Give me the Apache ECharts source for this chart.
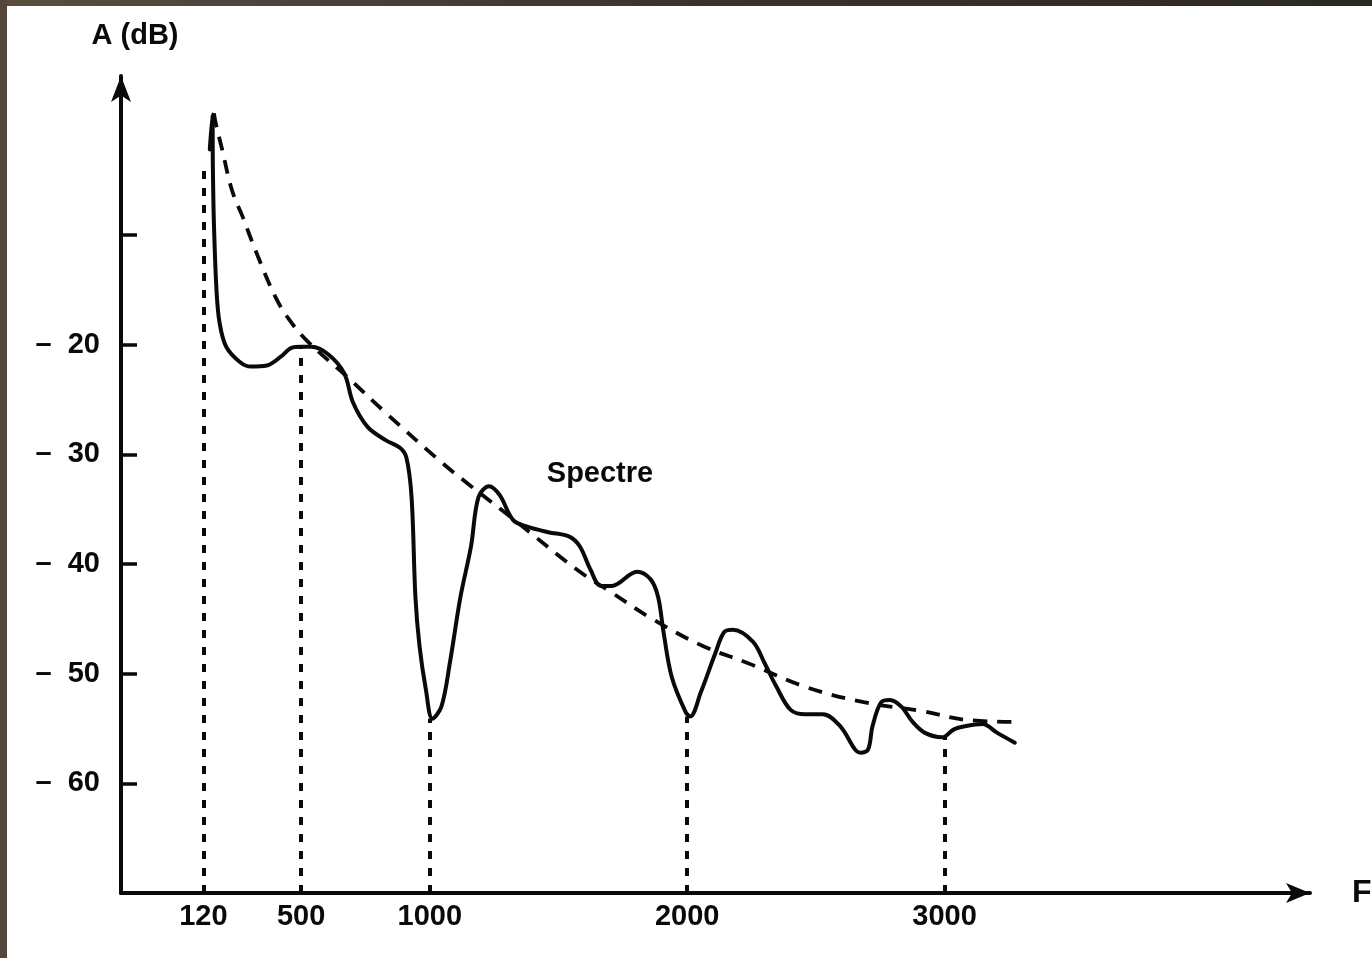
<!DOCTYPE html>
<html>
<head>
<meta charset="utf-8">
<title>Spectre</title>
<script src="https://cdn.jsdelivr.net/npm/echarts@6/dist/echarts.min.js"></script>
<style>
  html, body { margin: 0; padding: 0; background: #ffffff; }
  #chart { position: absolute; left: 0; top: 0; width: 1372px; height: 958px; background: #ffffff; }
  .edge-top { position: absolute; left: 0; top: 0; width: 1372px; height: 6px;
              background: linear-gradient(to right, #5a4d40, #3a332c 50%, #2c2824); z-index: 2; }
  .edge-left { position: absolute; left: 0; top: 0; width: 7px; height: 958px; background: #54483c; z-index: 2; }
</style>
</head>
<body>
<div id="chart"></div>
<div class="edge-top"></div>
<div class="edge-left"></div>
<script>
// Frequency ticks (Hz) and amplitude ticks (dB)
const freqTicks = [120, 500, 1000, 2000, 3000];
const dbLabelTicks = [-60, -50, -40, -30, -20];
const dbTickMarks = [-60, -50, -40, -30, -20, -10];

// Measured spectrum: frequency (Hz) and amplitude (dB)
const spectrumFreq = [145, 155, 157, 161, 171, 183, 209, 263, 304, 367, 421, 462, 500, 540, 606, 667,
  702, 758, 828, 884, 909, 929, 944, 960, 985, 1010, 1045, 1078, 1119, 1160, 1189, 1230, 1271, 1324,
  1378, 1460, 1542, 1583, 1624, 1665, 1706, 1805, 1858, 1887, 1908, 1940, 1994, 2012, 2053, 2110,
  2144, 2178, 2256, 2300, 2347, 2402, 2459, 2527, 2595, 2652, 2673, 2703, 2720, 2754, 2788, 2832,
  2876, 2924, 2991, 3035, 3079, 3147, 3205, 3273];
const spectrumDb = [-2.2, 1.0, -3.9, -8.9, -15.0, -18.0, -20.2, -21.6, -22.0, -21.9, -21.1, -20.3, -20.2, -20.2, -20.9, -22.6,
  -25.3, -27.5, -28.7, -29.4, -30.3, -33.9, -43.0, -47.5, -51.5, -54.1, -53.0, -49.0, -43.0, -38.4, -33.9, -32.9, -33.7, -36.0,
  -36.6, -37.1, -37.5, -38.4, -40.5, -42.0, -42.0, -40.7, -41.4, -43.0, -46.2, -50.3, -53.5, -53.9, -51.7, -48.1,
  -46.2, -46.0, -47.1, -49.0, -51.2, -53.3, -53.7, -53.7, -54.8, -56.9, -57.2, -56.9, -54.8, -52.6, -52.4, -53.0,
  -54.4, -55.4, -55.8, -55.1, -54.8, -54.6, -55.4, -56.3];

// Envelope of the spectrum (dashed curve)
const envelopeFreq = [161, 168, 193, 231, 272, 326, 399, 453, 525, 677, 828, 1049, 1160, 1324, 1571, 1706,
  1871, 2063, 2232, 2459, 2686, 2910, 3079, 3273];
const envelopeDb = [1.1, 0.2, -2.2, -5.9, -8.3, -11.6, -15.6, -17.7, -19.7, -22.9, -26.2, -30.8, -32.9, -35.9, -40.5, -42.6,
  -45.1, -47.5, -49.0, -51.2, -52.6, -53.4, -54.2, -54.4];

// Dotted drop lines from the frequency axis up to the curve
const dropFreq = [120, 500, 1000, 2000, 3000];
const dropTopDb = [-4, -20.2, -54.1, -53.9, -55.8];

const axisFloorDb = -70;

const FONT = 'Liberation Sans';
const INK = '#0a0a0a';

const zip = (xs, ys) => xs.map((x, i) => [x, ys[i]]);

const chart = echarts.init(document.getElementById('chart'), null, { renderer: 'canvas' });

chart.setOption({
  backgroundColor: '#ffffff',
  animation: false,
  grid: { left: 121, right: 62, top: 76, bottom: 65, containLabel: false, outerBoundsMode: 'none' },
  xAxis: {
    type: 'value',
    min: -200,
    max: 4420,
    name: 'F',
    nameLocation: 'end',
    nameGap: 42,
    nameTextStyle: { color: INK, fontFamily: FONT, fontWeight: 'bold', fontSize: 32 },
    axisLine: {
      show: true, onZero: false,
      symbol: ['none', 'arrow'], symbolSize: [15, 24],
      lineStyle: { color: INK, width: 4 }
    },
    axisTick: { show: false },
    splitLine: { show: false },
    axisLabel: {
      customValues: freqTicks,
      formatter: v => String(v),
      color: INK, fontFamily: FONT, fontWeight: 'bold', fontSize: 29, margin: 9
    }
  },
  yAxis: {
    type: 'value',
    min: axisFloorDb,
    max: 4.5,
    name: 'A (dB)',
    nameLocation: 'end',
    nameGap: 26,
    nameTextStyle: { color: INK, fontFamily: FONT, fontWeight: 'bold', fontSize: 29, align: 'center', padding: [0, 0, 0, 28] },
    axisLine: {
      show: true, onZero: false,
      symbol: ['none', 'arrow'], symbolSize: [15, 26],
      lineStyle: { color: INK, width: 4 }
    },
    axisTick: {
      show: true, inside: true, length: 16,
      customValues: dbTickMarks,
      lineStyle: { color: INK, width: 3.5 }
    },
    splitLine: { show: false },
    axisLabel: {
      customValues: dbLabelTicks,
      formatter: v => '\u2013  ' + Math.abs(v),
      color: INK, fontFamily: FONT, fontWeight: 'bold', fontSize: 29, margin: 21
    }
  },
  graphic: [{
    type: 'text',
    style: {
      text: 'Spectre', x: 600, y: 474,
      align: 'center', verticalAlign: 'middle',
      fill: INK, font: 'bold 29px "Liberation Sans"'
    }
  }],
  series: [
    {
      name: 'Spectre',
      type: 'line',
      data: zip(spectrumFreq, spectrumDb),
      showSymbol: false,
      smooth: 0.35,
      lineStyle: { color: INK, width: 4, cap: 'round', join: 'round' },
      z: 4
    },
    {
      name: 'Enveloppe',
      type: 'line',
      data: zip(envelopeFreq, envelopeDb),
      showSymbol: false,
      smooth: 0.4,
      lineStyle: { color: INK, width: 3.8, type: [14, 10] },
      z: 3
    },
    {
      name: 'Repères',
      type: 'line',
      data: [],
      markLine: {
        silent: true,
        symbol: ['none', 'none'],
        label: { show: false },
        lineStyle: { color: INK, width: 4, type: [8, 9] },
        data: dropFreq.map((f, i) => [
          { coord: [f, axisFloorDb] },
          { coord: [f, dropTopDb[i]] }
        ])
      },
      z: 2
    }
  ]
});
</script>
</body>
</html>
